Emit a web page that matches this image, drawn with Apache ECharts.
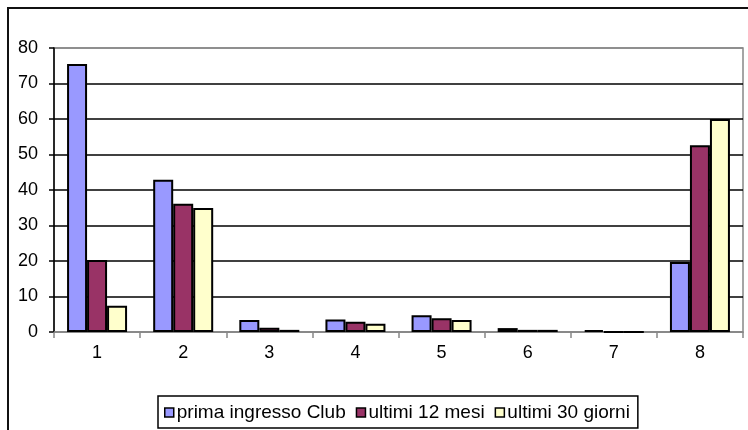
<!DOCTYPE html>
<html>
<head>
<meta charset="utf-8">
<script src="https://cdn.jsdelivr.net/npm/echarts@6/dist/echarts.min.js"></script>
<style>
html,body{margin:0;padding:0;background:#fff;}
#wrap{position:relative;width:748px;height:430px;overflow:hidden;}
#frame{position:absolute;left:7px;top:7px;width:760px;height:440px;border-left:2px solid #111;border-top:2px solid #111;box-sizing:border-box;}
#chart{position:absolute;left:0;top:0;width:748px;height:430px;}
</style>
</head>
<body>
<div id="wrap"><div id="frame"></div><div id="chart"></div></div>
<script>
const categories = ['1','2','3','4','5','6','7','8'];
const seriesNames = ['prima ingresso Club','ultimi 12 mesi','ultimi 30 giorni'];
const primaIngresso = [75.5, 42.9, 3.4, 3.5, 4.7, 1.1, 0.5, 19.7];
const ultimi12 = [20.3, 36.1, 1.2, 2.9, 3.9, 0.6, 0, 52.6];
const ultimi30 = [7.4, 34.9, 0.6, 2.3, 3.4, 0.6, 0, 60];
const yTicks = {min: 0, max: 80, interval: 10};
const colors = ['#9999FF', '#993366', '#FFFFCC'];

const chart = echarts.init(document.getElementById('chart'), null, {renderer: 'canvas'});
const font = 'Liberation Sans, Arial, sans-serif';
const mk = (name, data, color) => ({
  name, type: 'bar', data, barWidth: 20, barGap: '0%',
  itemStyle: {color, borderColor: '#000', borderWidth: 2},
  emphasis: {disabled: true}, animation: false
});
chart.setOption({
  animation: false,
  textStyle: {fontFamily: font},
  grid: {left: 54, right: 5, top: 48, bottom: 98, show: true, borderColor: '#888', borderWidth: 1.5, backgroundColor: 'transparent'},
  xAxis: {
    type: 'category', data: categories,
    axisLine: {lineStyle: {color: '#888', width: 1.5}},
    axisTick: {show: true, length: 6, lineStyle: {color: '#888', width: 1.5}},
    axisLabel: {color: '#000', fontSize: 18, fontFamily: font, margin: 12},
    splitLine: {show: false}
  },
  yAxis: {
    type: 'value', min: yTicks.min, max: yTicks.max, interval: yTicks.interval,
    axisLine: {show: true, lineStyle: {color: '#000', width: 1.5}},
    axisTick: {show: true, length: 5, lineStyle: {color: '#000', width: 1.5}},
    axisLabel: {color: '#000', fontSize: 18, fontFamily: font, margin: 16},
    splitLine: {show: true, lineStyle: {color: ['#888','#000','#000','#000','#000','#000','#000','#000','#888'], width: 1.5}}
  },
  legend: {
    data: seriesNames, left: 158, top: 396,
    borderColor: '#000', borderWidth: 1.5, padding: [7, 8, 6, 6],
    icon: 'rect', itemWidth: 9, itemHeight: 9, itemGap: 10,
    textStyle: {fontSize: 19, color: '#000', fontFamily: font, padding: [0, 0, 0, -2]},
    itemStyle: {borderColor: '#000', borderWidth: 1.5}
  },
  series: [mk(seriesNames[0], primaIngresso, colors[0]), mk(seriesNames[1], ultimi12, colors[1]), mk(seriesNames[2], ultimi30, colors[2])]
});
</script>
</body>
</html>
